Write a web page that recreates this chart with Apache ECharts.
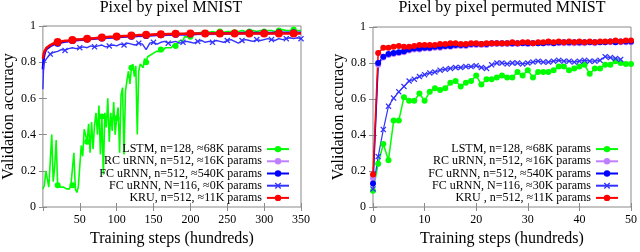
<!DOCTYPE html>
<html>
<head>
<meta charset="utf-8">
<script src="https://cdn.jsdelivr.net/npm/echarts@6/dist/echarts.min.js"></script>
<style>html,body{margin:0;padding:0;background:#fff}#c{width:640px;height:252px}</style>
</head>
<body>
<div id="c"></div>
<script>
// ---------- Titles / labels ----------
const titleLeft = 'Pixel by pixel MNIST';
const titleRight = 'Pixel by pixel permuted MNIST';
const yName = 'Validation accuracy';
const xName = 'Training steps (hundreds)';
const namesLeft = ['LSTM, n=128, \u224868K params', 'RC uRNN, n=512, \u224816K params', 'FC uRNN, n=512, \u2248540K params', 'FC uRNN, N=116, \u22480K params', 'KRU, n=512, \u224811K params'];
const namesRight = ['LSTM, n=128, \u224868K params', 'RC uRNN, n=512, \u224816K params', 'FC uRNN, n=512, \u2248540K params', 'FC uRNN, N=116, \u224830K params', 'KRU , n=512, \u224811K params'];
const yTicks = [0, 0.2, 0.4, 0.6, 0.8, 1];
const xTicksLeft = [50, 100, 150, 200, 250, 300, 350];
const xTicksRight = [0, 10, 20, 30, 40, 50];

// ---------- Left plot (pixel MNIST) ----------
const lsGreenX = [0,2,4,6,8,10,12,14,16,18,20,22,24,26,28,30,32,34,36,38,40,42,44,46,48,50,52,54,56,58,60,62,64,66,68,70,72,74,76,78,80,82,84,86,88,90,92,94,96,98,100,102,104,106,108,110,112,114,116,118,120,122,124,126,128,130,132,134,136,138,140,142,144,146,148,150,152,154,156,158,160,162,164,166,168,170,172,174,176,178,180,182,184,186,188,190,192,194,196,198,200,202,204,206,208,210,215,220,225,230,235,240,245,250,255,260,265,270,275,280,285,290,295,300,305,310,315,320,325,330,335,340,345,350];
const lsGreen = [0.10,0.12,0.20,0.21,0.11,0.12,0.40,0.14,0.22,0.37,0.12,0.11,0.11,0.10,0.11,0.12,0.10,0.11,0.10,0.12,0.12,0.30,0.10,0.08,0.11,0.10,0.34,0.28,0.43,0.42,0.36,0.46,0.30,0.47,0.32,0.45,0.52,0.40,0.56,0.29,0.50,0.18,0.52,0.44,0.60,0.36,0.52,0.42,0.58,0.40,0.49,0.55,0.30,0.62,0.66,0.29,0.64,0.70,0.75,0.68,0.77,0.79,0.72,0.78,0.40,0.75,0.79,0.80,0.77,0.82,0.80,0.83,0.82,0.84,0.83,0.85,0.84,0.86,0.85,0.86,0.87,0.86,0.87,0.88,0.87,0.88,0.89,0.88,0.89,0.90,0.89,0.90,0.91,0.92,0.93,0.92,0.94,0.93,0.94,0.95,0.94,0.95,0.96,0.95,0.96,0.96,0.965,0.96,0.965,0.97,0.965,0.97,0.965,0.97,0.97,0.965,0.97,0.975,0.97,0.97,0.975,0.97,0.975,0.97,0.975,0.975,0.97,0.975,0.98,0.975,0.975,0.98,0.975,0.975];

const lsX = [0,1,2,3,5,10,15,20,25,30,35,40,45,50,55,60,65,70,75,80,85,90,95,100,105,110,115,120,125,130,135,140,145,150,155,160,165,170,175,180,185,190,195,200,205,210,215,220,225,230,235,240,245,250,255,260,265,270,275,280,285,290,295,300,305,310,315,320,325,330,335,340,345,350];
const lsRed = [0.82,0.845,0.86,0.87,0.88,0.895,0.905,0.912,0.915,0.918,0.92,0.923,0.925,0.925,0.928,0.93,0.93,0.933,0.935,0.937,0.938,0.94,0.94,0.942,0.943,0.945,0.945,0.947,0.948,0.95,0.95,0.951,0.952,0.953,0.954,0.955,0.955,0.956,0.956,0.957,0.957,0.957,0.958,0.958,0.958,0.958,0.959,0.959,0.958,0.959,0.959,0.958,0.959,0.959,0.958,0.959,0.958,0.959,0.959,0.958,0.959,0.958,0.959,0.958,0.959,0.958,0.958,0.959,0.958,0.958,0.959,0.958,0.958,0.958];
const lsBlue = [0.76,0.82,0.845,0.86,0.875,0.89,0.90,0.905,0.91,0.915,0.917,0.92,0.922,0.924,0.926,0.928,0.93,0.931,0.933,0.934,0.936,0.937,0.938,0.94,0.941,0.942,0.943,0.944,0.945,0.946,0.947,0.948,0.949,0.95,0.951,0.952,0.952,0.953,0.953,0.954,0.954,0.955,0.955,0.956,0.956,0.957,0.957,0.958,0.958,0.958,0.959,0.959,0.959,0.96,0.96,0.96,0.96,0.961,0.961,0.961,0.961,0.962,0.962,0.962,0.962,0.962,0.963,0.963,0.963,0.963,0.963,0.963,0.963,0.963];
const lsPurple = [0.74,0.815,0.84,0.855,0.87,0.886,0.897,0.902,0.907,0.912,0.914,0.917,0.919,0.921,0.923,0.925,0.927,0.928,0.93,0.931,0.933,0.934,0.935,0.937,0.938,0.939,0.94,0.941,0.942,0.943,0.944,0.945,0.946,0.947,0.948,0.949,0.949,0.95,0.95,0.951,0.951,0.952,0.952,0.953,0.953,0.954,0.954,0.955,0.955,0.955,0.956,0.956,0.956,0.957,0.957,0.957,0.957,0.958,0.958,0.958,0.958,0.959,0.959,0.959,0.959,0.959,0.96,0.96,0.96,0.96,0.96,0.96,0.96,0.96];
const lsCross = [0.65,0.78,0.80,0.81,0.82,0.845,0.855,0.86,0.87,0.865,0.875,0.88,0.875,0.88,0.885,0.88,0.89,0.885,0.89,0.895,0.885,0.89,0.895,0.89,0.90,0.895,0.905,0.90,0.895,0.905,0.90,0.87,0.905,0.91,0.90,0.91,0.915,0.905,0.91,0.915,0.905,0.91,0.915,0.91,0.905,0.915,0.92,0.91,0.915,0.91,0.92,0.915,0.91,0.92,0.925,0.915,0.905,0.92,0.925,0.92,0.915,0.925,0.92,0.925,0.93,0.925,0.92,0.93,0.925,0.93,0.935,0.93,0.935,0.93];

// ---------- Right plot (permuted MNIST) ----------
const rsX = [0,1,2,3,4,5,6,7,8,9,10,11,12,13,14,15,16,17,18,19,20,21,22,23,24,25,26,27,28,29,30,31,32,33,34,35,36,37,38,39,40,41,42,43,44,45,46,47,48,49,50];
const rsGreen = [0.09,0.24,0.35,0.26,0.48,0.48,0.61,0.59,0.59,0.63,0.59,0.64,0.66,0.65,0.66,0.69,0.70,0.67,0.69,0.70,0.73,0.68,0.71,0.71,0.72,0.73,0.72,0.72,0.75,0.73,0.76,0.72,0.75,0.75,0.75,0.76,0.78,0.78,0.76,0.77,0.78,0.79,0.74,0.77,0.77,0.79,0.79,0.81,0.80,0.795,0.795];
const rsPurple = [0.16,0.79,0.83,0.845,0.85,0.855,0.86,0.87,0.875,0.875,0.88,0.88,0.885,0.885,0.89,0.89,0.895,0.895,0.895,0.90,0.90,0.90,0.90,0.905,0.905,0.905,0.905,0.905,0.905,0.91,0.905,0.91,0.91,0.91,0.91,0.91,0.91,0.91,0.91,0.91,0.91,0.91,0.915,0.91,0.915,0.915,0.915,0.915,0.915,0.915,0.915];
const rsBlue = [0.13,0.80,0.835,0.85,0.855,0.86,0.865,0.875,0.88,0.88,0.885,0.885,0.89,0.89,0.895,0.895,0.90,0.90,0.90,0.905,0.905,0.905,0.905,0.91,0.91,0.91,0.91,0.91,0.91,0.91,0.91,0.91,0.91,0.91,0.915,0.91,0.915,0.915,0.915,0.915,0.915,0.915,0.915,0.915,0.915,0.915,0.92,0.915,0.92,0.92,0.92];
const rsCrossX = [0,1,2,3,4,5,6,7,8,9,10,11,12,13,14,15,16,17,18,19,20,21,22,23,24,25,26,27,28,29,30,31,32,33,34,35,36,37,38,39,40,41,42,43,44,45,46,47,48];
const rsCross = [0.10,0.28,0.43,0.56,0.605,0.64,0.67,0.70,0.71,0.725,0.735,0.745,0.75,0.76,0.765,0.77,0.775,0.775,0.78,0.78,0.785,0.775,0.77,0.79,0.80,0.80,0.795,0.80,0.80,0.795,0.80,0.805,0.81,0.805,0.805,0.81,0.815,0.81,0.81,0.805,0.81,0.815,0.81,0.81,0.815,0.835,0.83,0.825,0.82];
const rsRed = [0.18,0.855,0.885,0.885,0.89,0.895,0.89,0.89,0.895,0.90,0.90,0.90,0.90,0.905,0.905,0.91,0.91,0.905,0.905,0.91,0.91,0.905,0.91,0.91,0.91,0.91,0.91,0.915,0.91,0.915,0.915,0.91,0.915,0.915,0.92,0.915,0.92,0.915,0.92,0.915,0.92,0.915,0.92,0.915,0.92,0.92,0.92,0.925,0.92,0.925,0.925];

// ---------- Styling ----------
const FONT = '"Liberation Serif", "DejaVu Serif", serif';
const C_GREEN = '#00ff00', C_PURPLE = '#bf80ff', C_BLUE = '#0000ff', C_CROSS = '#3333ff', C_RED = '#ff0000';
const CROSS = 'path://M0,1.5L1.5,0L5,3.5L8.5,0L10,1.5L6.5,5L10,8.5L8.5,10L5,6.5L1.5,10L0,8.5L3.5,5Z';
const FRAME = '#8a8a8a';

const zip = (xs, ys) => xs.map((x, i) => [x, ys[i]]);
const every = (mod, rem, size) => (v) => (v[0] > 0 && Math.round(v[0]) % mod === rem ? size : 0);

function xAxes(gridIndex, max, interval, hideMin) {
  return [
    { type: 'value', gridIndex, position: 'bottom', min: 0, max, interval,
      axisLine: { show: false }, splitLine: { show: false },
      axisTick: { show: true, inside: true, length: 4, lineStyle: { color: FRAME } },
      axisLabel: { showMinLabel: !hideMin, color: '#000', fontFamily: FONT, fontSize: 12, margin: 7 },
      name: xName, nameLocation: 'middle', nameGap: 24,
      nameTextStyle: { color: '#000', fontFamily: FONT, fontSize: 16 } },
    { type: 'value', gridIndex, position: 'top', min: 0, max, interval,
      axisLine: { show: false }, splitLine: { show: false }, axisLabel: { show: false },
      axisTick: { show: true, inside: true, length: 4, lineStyle: { color: FRAME } } }
  ];
}
function yAxes(gridIndex, nameGap) {
  return [
    { type: 'value', gridIndex, position: 'left', min: 0, max: 1, interval: 0.2,
      axisLine: { show: false }, splitLine: { show: false },
      axisTick: { show: true, inside: true, length: 4, lineStyle: { color: FRAME } },
      axisLabel: { color: '#000', fontFamily: FONT, fontSize: 12, margin: 7,
        formatter: (v) => (v === 0 ? '0' : v === 1 ? '1' : v.toFixed(1)) },
      name: yName, nameLocation: 'middle', nameGap,
      nameTextStyle: { color: '#000', fontFamily: FONT, fontSize: 16 } },
    { type: 'value', gridIndex, position: 'right', min: 0, max: 1, interval: 0.2,
      axisLine: { show: false }, splitLine: { show: false }, axisLabel: { show: false },
      axisTick: { show: true, inside: true, length: 4, lineStyle: { color: FRAME } } }
  ];
}

function line(name, xi, yi, data, color, width, symbol, size) {
  return { type: 'line', name, xAxisIndex: xi, yAxisIndex: yi, data,
    color, symbol, symbolSize: size, showSymbol: true, showAllSymbol: true,
    lineStyle: { color, width }, itemStyle: { color }, z: 2, animation: false, silent: true };
}

const legendBase = { orient: 'vertical', align: 'right', itemWidth: 22, itemHeight: 8, itemGap: 0,
  textStyle: { fontFamily: FONT, fontSize: 12, color: '#000', lineHeight: 12.2 }, padding: 0, selectedMode: false };

const chart = echarts.init(document.getElementById('c'), null, { renderer: 'canvas' });
chart.setOption({
  animation: false,
  backgroundColor: '#fff',
  title: [
    { text: titleLeft, left: 171, top: 0, textAlign: 'center', padding: 0,
      textStyle: { fontFamily: FONT, fontSize: 16, fontWeight: 'normal', color: '#000' } },
    { text: titleRight, left: 502, top: 0, textAlign: 'center', padding: 0,
      textStyle: { fontFamily: FONT, fontSize: 16, fontWeight: 'normal', color: '#000' } }
  ],
  grid: [
    { left: 42, top: 26, width: 259, height: 182, show: true, borderColor: FRAME, borderWidth: 1, backgroundColor: 'transparent' },
    { left: 373, top: 27, width: 259, height: 181, show: true, borderColor: FRAME, borderWidth: 1, backgroundColor: 'transparent' }
  ],
  xAxis: [...xAxes(0, 350, 50, true), ...xAxes(1, 50, 10, false)],
  yAxis: [...yAxes(0, 25), ...yAxes(1, 26)],
  legend: [
    Object.assign({}, legendBase, { right: 350, top: 143, data: namesLeft }),
    Object.assign({}, legendBase, { right: 21, top: 143, data: namesRight })
  ],
  series: [
    line(namesLeft[0], 0, 0, zip(lsGreenX, lsGreen), C_GREEN, 1.6, 'circle', every(20, 0, 6)),
    line(namesLeft[1], 0, 0, zip(lsX, lsPurple), C_PURPLE, 2, 'circle', every(20, 0, 6)),
    line(namesLeft[2], 0, 0, zip(lsX, lsBlue), C_BLUE, 2.5, 'circle', every(20, 0, 7)),
    line(namesLeft[3], 0, 0, zip(lsX, lsCross), C_CROSS, 1.4, CROSS, every(20, 10, 6)),
    line(namesLeft[4], 0, 0, zip(lsX, lsRed), C_RED, 2.5, 'circle', every(20, 0, 8)),
    line(namesRight[0], 2, 2, zip(rsX, rsGreen), C_GREEN, 1.5, 'circle', 6),
    line(namesRight[1], 2, 2, zip(rsX, rsPurple), C_PURPLE, 1.5, 'circle', 6),
    line(namesRight[2], 2, 2, zip(rsX, rsBlue), C_BLUE, 1.5, 'circle', 6),
    line(namesRight[3], 2, 2, zip(rsCrossX, rsCross), C_CROSS, 1.2, CROSS, 6),
    line(namesRight[4], 2, 2, zip(rsX, rsRed), C_RED, 1.5, 'circle', 6)
  ]
});
</script>
</body>
</html>
